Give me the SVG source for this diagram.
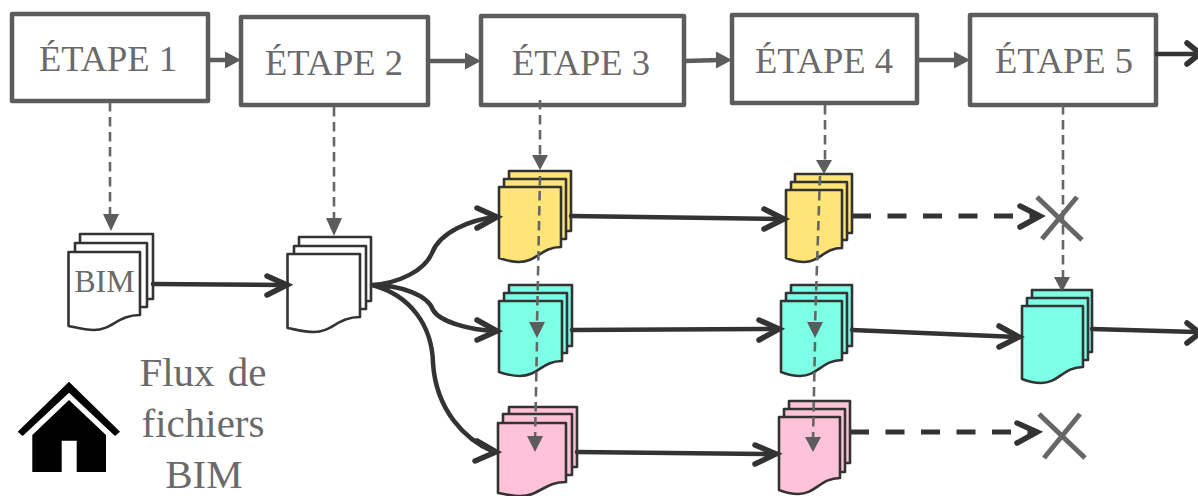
<svg xmlns="http://www.w3.org/2000/svg" width="1198" height="496" viewBox="0 0 1198 496">
<style>
text{font-family:"Liberation Serif","Times New Roman",serif;fill:#6a6a6a;text-anchor:middle}
.step rect{fill:#fff;stroke:#5c5c5c;stroke-width:4.5;stroke-linejoin:round}
.step text{font-size:36.500px}
.doc rect,.doc path{stroke:#333;stroke-width:2.6;stroke-linejoin:round}
.w rect,.w path{fill:#fff}
.y rect,.y path{fill:#ffe577}
.c rect,.c path{fill:#7cffe4}
.p rect,.p path{fill:#ffc2d9}
.flow{fill:none;stroke:#333;stroke-width:4.500;stroke-linecap:round;stroke-linejoin:round}
.head{fill:none;stroke:#333;stroke-width:5.500;stroke-linecap:round;stroke-linejoin:miter}
.dash{fill:none;stroke:#333;stroke-width:5;stroke-dasharray:19 16.500}
.link{fill:none;stroke:#666;stroke-width:2.600;stroke-dasharray:9.500 5.500}
.seq{fill:none;stroke:#5c5c5c;stroke-width:4.500}
.tip{fill:#5c5c5c}
.x{stroke:#666;stroke-width:5;fill:none}
</style>
<g id="step1" class="step"><rect x="12" y="14" width="196" height="87"/><text x="108" y="71">ÉTAPE 1</text></g>
<g id="step2" class="step"><rect x="241" y="17" width="187" height="88"/><text x="334" y="75">ÉTAPE 2</text></g>
<g id="step3" class="step"><rect x="481" y="16" width="203" height="89"/><text x="581" y="75">ÉTAPE 3</text></g>
<g id="step4" class="step"><rect x="732" y="15" width="185" height="88"/><text x="824" y="73">ÉTAPE 4</text></g>
<g id="step5" class="step"><rect x="970" y="15" width="186" height="90"/><text x="1064" y="73">ÉTAPE 5</text></g>

<g id="doc-bim" class="doc w"><rect x="80" y="234" width="73" height="65"/><rect x="75" y="243" width="72" height="64"/><path d="M68.500,252H140V315c-22,0-28,15-46,15c-9,0-16,-2-25.500,-4Z"/><text x="104.500" y="292" font-size="32">BIM</text></g>
<g id="doc-2" class="doc w"><rect x="299" y="237" width="72" height="64"/><rect x="294" y="246" width="72" height="63"/><path d="M287.500,254H360V317c-22,0-28,15-46,15c-9,0-16,-2-26.500,-4Z"/></g>
<g id="doc-y3" class="doc y"><rect x="509" y="171" width="62" height="60"/><rect x="504" y="179" width="62" height="60"/><path d="M499,187H561V247c-20,0-24,15-42,15c-8,0-14,-2-20,-4Z"/></g>
<g id="doc-c3" class="doc c"><rect x="509" y="285" width="63" height="61"/><rect x="504" y="293" width="63" height="60"/><path d="M499,301H562V361c-20,0-24,15-42,15c-8,0-15,-2-21,-4Z"/></g>
<g id="doc-p3" class="doc p"><rect x="509" y="407" width="68" height="60"/><rect x="503" y="414" width="69" height="61"/><path d="M498,423H566V482c-22,0-26,14-46,14c-8,0-16,-2-22,-3Z"/></g>
<g id="doc-y4" class="doc y"><rect x="795" y="174" width="57" height="59"/><rect x="791" y="182" width="56" height="58"/><path d="M786,190H842V248c-18,0-22,14-38,14c-7,0-13,-2-18,-4Z"/></g>
<g id="doc-c4" class="doc c"><rect x="791" y="285" width="61" height="61"/><rect x="786" y="293" width="61" height="60"/><path d="M781,301H842V360c-20,0-24,16-42,16c-8,0-14,-2-19,-4Z"/></g>
<g id="doc-p4" class="doc p"><rect x="789" y="401" width="61" height="62"/><rect x="784" y="409" width="61" height="63"/><path d="M779,417H840V478c-20,0-24,16-42,16c-8,0-14,-2-19,-4Z"/></g>
<g id="doc-c5" class="doc c"><rect x="1032" y="290" width="60" height="62"/><rect x="1027" y="298" width="61" height="62"/><path d="M1022,306H1083V367c-20,0-24,16-42,16c-8,0-14,-2-19,-4Z"/></g>

<g id="cross-1"><path class="x" d="M1037,197L1082,240M1077,197L1042,239"/></g>
<g id="cross-2"><path class="x" d="M1039,414L1085,458M1080,414L1044,458"/></g>

<g id="house"><path fill="#000" d="M69,381.700L120,431.700L115,436L69,392.700L22.700,436L17.700,431.700Z"/><path fill="#000" d="M69,400L106,435V472H76.700V440.700H61.700V472H32.300V435Z"/></g>
<g id="legend" font-size="41"><text x="203" y="386" style="word-spacing:3px">Flux de</text><text x="203" y="437">fichiers</text><text x="204" y="488">BIM</text></g>

<g id="connectors">
<path class="seq" d="M208,60H228M428,61H468M684,61L720,60M917,60H957"/>
<path class="tip" d="M241,60L225,51.500V68.500ZM481,61L465,52.500V69.500ZM732,60L716,51.500V68.500ZM970,60L954,51.500V68.500Z"/>
<path class="flow" d="M1157,54H1197"/><path class="head" d="M1187,43L1200,53.500L1187,64"/>
<path class="link" d="M110,102V218M334,107V222M540,100V158M825,105V162M1063,105V280M540,176L537,325M537,342L535,440M820,176L815,325M815,342L813,440"/>
<path class="tip" d="M111,231L103,214H119ZM334,236L326,218H342ZM540,170L532,155H548ZM824,174L816,160H832ZM1062,292L1054,277H1070ZM537,338L529,322H545ZM535,452L527,436H543ZM815,338L807,322H823ZM813,452L805,437H821Z"/>
<path class="flow" d="M153,284L285,285M372,285C400,283 425,270 432,253C440,232 470,220 495,217M372,285C400,285 428,295 433,310C440,322 470,330 495,331M372,285C410,295 432,325 433,363C436,410 465,440 494,452M571,216L782,219M572,330L777,329M577,452L774,454M852,330L1017,337M1092,329L1196,332"/>
<path class="head" d="M267,276L287,285L267,295M477,208L497,217L477,228M477,320L497,331L477,340M477,441L496,452L475,461M764,209L784,219L764,229M759,320L779,329L759,340M755,445L776,454L755,464M999,326L1019,337L999,347M1187,323L1200,333L1187,343"/>
<path class="dash" d="M852,216H1035M850,432H1032"/>
<path class="head" d="M1020,206L1040,216L1020,227M1017,423L1037,432L1017,443"/>
</g>
</svg>
